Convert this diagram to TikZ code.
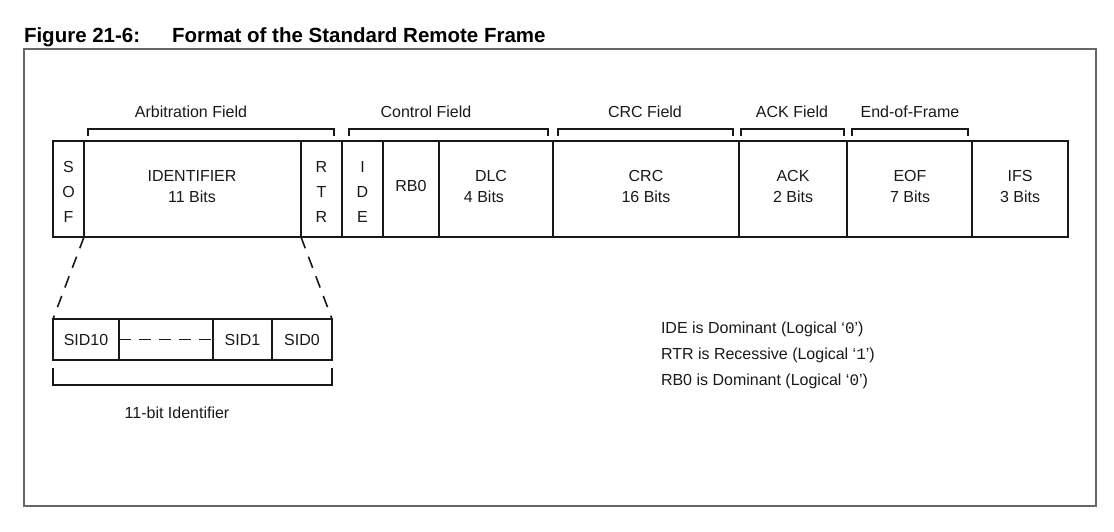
\documentclass[tikz,border=0pt]{standalone}
\usepackage{fontspec}
\setmainfont{Liberation Sans}
\newfontfamily\monofont{Liberation Mono}
\begin{document}
\begin{tikzpicture}[x=1pt,y=-1pt,
  every node/.style={inner sep=0pt, outer sep=0pt},
  lbl/.style={anchor=base, font=\fontsize{16}{18}\selectfont, text=black!90},
  note/.style={anchor=base west, font=\fontsize{16}{18}\selectfont, text=black!90},
  ttlstyle/.style={anchor=base west, font=\bfseries\fontsize{20.5}{23}\selectfont},
  cellbox/.style={draw=black!90, line width=1.4pt, anchor=north west, minimum height=96pt},
  sidbox/.style={draw=black!90, line width=1.3pt, anchor=north west, minimum height=41pt},
  brk/.style={draw=black!90, line width=1.4pt},
  diag/.style={draw=black!90, line width=1.6pt, dash pattern=on 12pt off 9pt},
]
\useasboundingbox (0,0) rectangle (1114,532);

% title
\node[ttlstyle] (fig) at (24,43) {Figure 21-6:};
\node[ttlstyle] (ttl) at (172,43) {Format of the Standard Remote Frame};

% outer frame
\draw[line width=1.5pt, draw=black!60] (24,49) rectangle (1096,506);

% frame cells
\node[cellbox, minimum width=31pt]  (sof) at (53,141) {};
\node[cellbox, minimum width=217pt] (id)  at (84,141) {};
\node[cellbox, minimum width=41pt]  (rtr) at (301,141) {};
\node[cellbox, minimum width=41pt]  (ide) at (342,141) {};
\node[cellbox, minimum width=56pt]  (rb)  at (383,141) {};
\node[cellbox, minimum width=114pt] (dlc) at (439,141) {};
\node[cellbox, minimum width=186pt] (crc) at (553,141) {};
\node[cellbox, minimum width=108pt] (ack) at (739,141) {};
\node[cellbox, minimum width=125pt] (eof) at (847,141) {};
\node[cellbox, minimum width=96pt]  (ifs) at (972,141) {};

% cell texts
\node[lbl] (s1) at (68.5,172) {S};
\node[lbl] (s2) at (68.5,197) {O};
\node[lbl] (s3) at (68.5,222) {F};
\node[lbl] (i1) at (192,182) {IDENTIFIER};
\node[lbl] (i2) at (192,202) {11 Bits};
\node[lbl] (r1) at (321.5,172) {R};
\node[lbl] (r2) at (321.5,197) {T};
\node[lbl] (r3) at (321.5,222) {R};
\node[lbl] (e1) at (362.5,172) {I};
\node[lbl] (e2) at (362.5,197) {D};
\node[lbl] (e3) at (362.5,222) {E};
\node[lbl] (rbt) at (411,192) {RB0};
\node[lbl] (d1) at (491,182) {DLC};
\node[lbl] (d2) at (484,202) {4 Bits};
\node[lbl] (c1) at (646,182) {CRC};
\node[lbl] (c2) at (646,202) {16 Bits};
\node[lbl] (a1) at (793,182) {ACK};
\node[lbl] (a2) at (793,202) {2 Bits};
\node[lbl] (f1) at (910,182) {EOF};
\node[lbl] (f2) at (910,202) {7 Bits};
\node[lbl] (g1) at (1020,182) {IFS};
\node[lbl] (g2) at (1020,202) {3 Bits};

% field brackets
\draw[brk] (88,136) -- (88,129) -- (334,129) -- (334,136);
\draw[brk] (349,136) -- (349,129) -- (548,129) -- (548,136);
\draw[brk] (558,136) -- (558,129) -- (733,129) -- (733,136);
\draw[brk] (741,136) -- (741,129) -- (844,129) -- (844,136);
\draw[brk] (852,136) -- (852,129) -- (968,129) -- (968,136);

% field labels
\node[lbl] (la) at (191,118) {Arbitration Field};
\node[lbl] (lc) at (426,118) {Control Field};
\node[lbl] (lr) at (645,118) {CRC Field};
\node[lbl] (lk) at (792,118) {ACK Field};
\node[lbl] (le) at (910,118) {End-of-Frame};

% identifier expansion
\node[sidbox, minimum width=66pt] (sid10) at (53,319) {};
\node[sidbox, minimum width=94pt] (sidd)  at (119,319) {};
\node[sidbox, minimum width=59pt] (sid1)  at (213,319) {};
\node[sidbox, minimum width=60pt] (sid0)  at (272,319) {};
\node[lbl] (t10) at (86,345) {SID10};
\node[lbl] (t1)  at (242.5,345) {SID1};
\node[lbl] (t0)  at (302,345) {SID0};
\draw[draw=black!90, line width=1.2pt, dash pattern=on 12pt off 8pt] (sidd.west) -- (sidd.east);

\draw[diag] (id.south west) -- (sid10.north west);
\draw[diag] (id.south east) -- (sid0.north east);

\draw[draw=black!90, line width=2pt] (53,368) -- (53,385) -- (332,385) -- (332,368);
\node[lbl] (lid) at (177,418) {11-bit Identifier};

% notes
\node[note] (n1) at (661,333) {IDE is Dominant (Logical `{\monofont 0}')};
\node[note] (n2) at (661,359) {RTR is Recessive (Logical `{\monofont 1}')};
\node[note] (n3) at (661,385) {RB0 is Dominant (Logical `{\monofont 0}')};
\end{tikzpicture}
\end{document}
